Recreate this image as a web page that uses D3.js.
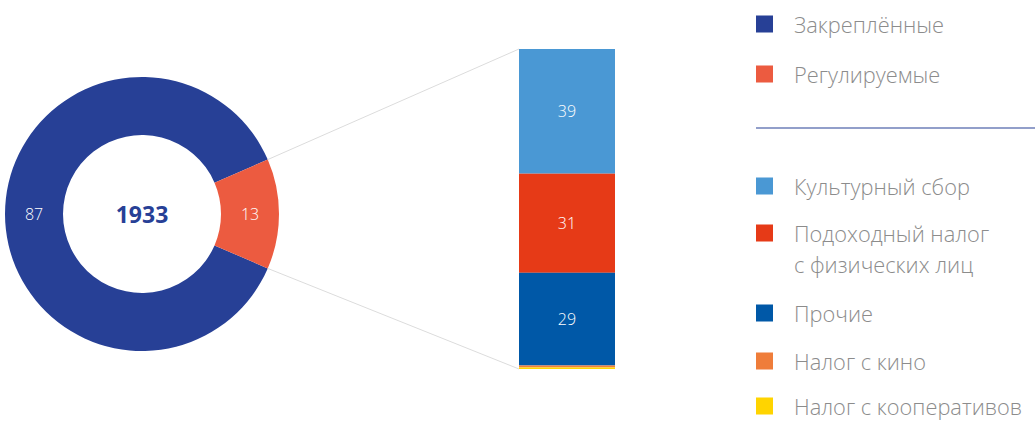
<!DOCTYPE html>
<html>
<head>
<meta charset="utf-8">
<script src="https://cdn.jsdelivr.net/npm/d3@7"></script>
<style>
  html, body { margin: 0; padding: 0; background: #fff; }
  svg { display: block; font-family: "Open Sans", "Noto Sans", sans-serif; }
</style>
</head>
<body>
<svg id="chart" width="1035" height="421"></svg>
<script>
// Budget structure, 1933
const yearLabel = "1933";

const donutCategories = ["Закреплённые", "Регулируемые"];
const donutValues = [87, 13];
const donutColors = ["#274096", "#ec5b40"];

const barCategories = ["Культурный сбор", "Подоходный налог\nс физических лиц", "Прочие", "Налог с кино", "Налог с кооперативов"];
const barValues = [39, 31, 29, 0.6, 0.5];
const barColors = ["#4a98d4", "#e63a17", "#0058a7", "#ef7d3a", "#ffd400"];

const svg = d3.select("#chart");

// ---- Donut ----
const cx = 142, cy = 214, rOuter = 137, rInner = 79;
const halfReg = (donutValues[1] / d3.sum(donutValues)) * Math.PI;
const pie = d3.pie().sort(null)
  .startAngle(Math.PI / 2 + halfReg)
  .endAngle(Math.PI / 2 + halfReg + 2 * Math.PI);
const arcs = pie(donutValues);
const arc = d3.arc().innerRadius(rInner).outerRadius(rOuter);
const labelArc = d3.arc().innerRadius((rInner + rOuter) / 2).outerRadius((rInner + rOuter) / 2);

const gDonut = svg.append("g").attr("transform", `translate(${cx},${cy})`);
gDonut.selectAll("path").data(arcs).join("path")
  .attr("d", arc)
  .attr("fill", (d, i) => donutColors[i]);
gDonut.selectAll("text.val").data(arcs).join("text")
  .attr("class", "val")
  .attr("transform", d => `translate(${labelArc.centroid(d)})`)
  .attr("text-anchor", "middle")
  .attr("dominant-baseline", "central")
  .attr("fill", "#fff")
  .attr("font-size", 16)
  .attr("font-weight", 300)
  .text(d => d.data);
gDonut.append("text")
  .attr("text-anchor", "middle")
  .attr("dominant-baseline", "central")
  .attr("fill", "#274096")
  .attr("font-size", 23)
  .attr("font-weight", 700)
  .text(yearLabel);

// ---- Stacked bar for the regulated part ----
const barX = 519, barW = 96, barTop = 49, barBottom = 369;
const total = d3.sum(barValues);
const y = d3.scaleLinear().domain([0, total]).range([barTop, barBottom]);
let acc = 0;
const stacked = barValues.map((v, i) => { const s = { y0: acc, y1: acc + v, v, i }; acc += v; return s; });

// connector lines from the regulated slice to the bar
const regArc = arcs[1];
const pt = a => [cx + rOuter * Math.sin(a), cy - rOuter * Math.cos(a)];
const pUpper = pt(regArc.startAngle);
const pLower = pt(regArc.endAngle);
svg.append("line")
  .attr("x1", pUpper[0]).attr("y1", pUpper[1]).attr("x2", barX).attr("y2", y(0))
  .attr("stroke", "#dcdcdc").attr("stroke-width", 1);
svg.append("line")
  .attr("x1", pLower[0]).attr("y1", pLower[1]).attr("x2", barX).attr("y2", y(total))
  .attr("stroke", "#dcdcdc").attr("stroke-width", 1);

const gBar = svg.append("g");
gBar.selectAll("rect").data(stacked).join("rect")
  .attr("x", barX).attr("width", barW)
  .attr("y", d => y(d.y0))
  .attr("height", d => y(d.y1) - y(d.y0))
  .attr("fill", d => barColors[d.i]);
gBar.selectAll("text").data(stacked.filter(d => d.v >= 5)).join("text")
  .attr("x", barX + barW / 2)
  .attr("y", d => (y(d.y0) + y(d.y1)) / 2)
  .attr("text-anchor", "middle")
  .attr("dominant-baseline", "central")
  .attr("fill", "#fff")
  .attr("font-size", 16)
  .attr("font-weight", 300)
  .text(d => d.v);

// ---- Legend ----
const legX = 756, sq = 17, textX = 794;
const legend = svg.append("g").attr("font-size", 21.8).attr("fill", "#8c8c8c").attr("font-weight", 300);
function legendItem(label, color, cyItem) {
  legend.append("rect").attr("x", legX).attr("y", cyItem - sq / 2).attr("width", sq).attr("height", sq).attr("fill", color);
  const lines = label.split("\n");
  const t = legend.append("text").attr("x", textX).attr("y", cyItem).attr("dominant-baseline", "central");
  lines.forEach((ln, k) => {
    t.append("tspan").attr("x", textX).attr("dy", k === 0 ? 0 : 31).text(ln);
  });
}
const donutLegendY = [24, 74];
donutCategories.forEach((c, i) => legendItem(c, donutColors[i], donutLegendY[i]));
svg.append("line").attr("x1", legX).attr("x2", 1035).attr("y1", 128).attr("y2", 128)
  .attr("stroke", "#274096").attr("stroke-width", 1.2);
const barLegendY = [186, 233, 313, 361, 406];
barCategories.forEach((c, i) => legendItem(c, barColors[i], barLegendY[i]));
</script>
</body>
</html>
